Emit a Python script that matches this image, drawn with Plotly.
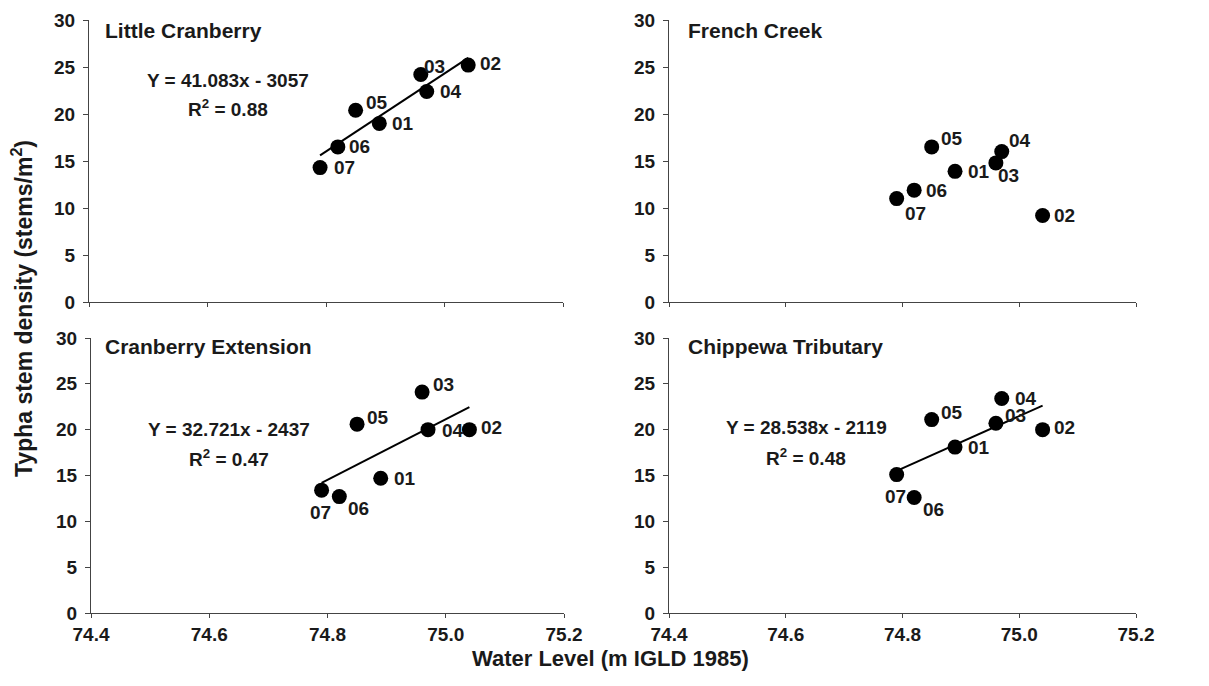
import numpy as np
import plotly.graph_objects as go

# ---- data ----
years = ["01", "02", "03", "04", "05", "06", "07"]
water_level = [74.89, 75.04, 74.96, 74.97, 74.85, 74.82, 74.79]

little_cranberry = [19.0, 25.2, 24.2, 22.4, 20.4, 16.5, 14.3]
french_creek = [13.9, 9.2, 14.8, 16.0, 16.5, 11.9, 11.0]
cranberry_extension = [14.7, 20.0, 24.1, 20.0, 20.6, 12.7, 13.4]
chippewa_tributary = [18.1, 20.0, 20.7, 23.4, 21.1, 12.6, 15.1]

panel_titles = ["Little Cranberry", "French Creek", "Cranberry Extension", "Chippewa Tributary"]
equations = ["Y = 41.083x - 3057", None, "Y = 32.721x - 2437", "Y = 28.538x - 2119"]
r2_values = ["0.88", None, "0.47", "0.48"]
x_ticks = [74.4, 74.6, 74.8, 75.0, 75.2]
y_ticks = [0, 5, 10, 15, 20, 25, 30]

series = [little_cranberry, french_creek, cranberry_extension, chippewa_tributary]

# label offsets (px) per panel, order as years
label_offsets = [
    [(24, 0), (22, 2), (14, 8), (24, 0), (21, 8), (22, 0), (24, 0)],
    [(24, 0), (22, 0), (13, -13), (18, 11), (20, 8), (22, 0), (19, -15)],
    [(24, 0), (22, 2), (21, 8), (25, -1), (21, 7), (19, -12), (-1, -22)],
    [(24, 0), (22, 2), (20, 8), (24, 0), (20, 7), (19, -12), (-1, -22)],
]

# browser page has an 8px body margin
OFF = 8
W, H = 1193, 670


def px(x):
    return (x - OFF) / W


def py(y):
    return 1 - (y - OFF) / H


# panel pixel boxes in the screenshot: (x0, x1, ytop, ybottom)
boxes = [
    (89, 563, 20, 302),
    (669, 1136, 20, 302),
    (91, 564, 338, 613),
    (669, 1136, 338, 613),
]
title_pos = [(103, 30), (686, 30), (103, 347), (686, 347)]
eq_pos = [(228, 80, 108), None, (229, 429, 458), (806, 427, 457)]

FONT = "Liberation Sans, Arial, Helvetica, sans-serif"
INK = "#1a1a1a"

fig = go.Figure()
annotations = []
layout_axes = {}

for i in range(4):
    ax = "" if i == 0 else str(i + 1)
    xa, ya = "x" + ax, "y" + ax
    x0, x1, yt, yb = boxes[i]
    layout_axes["xaxis" + ax] = dict(
        domain=[px(x0), px(x1)], range=[74.4, 75.2], anchor=ya,
        tickvals=x_ticks, tickformat=".1f", showticklabels=(i >= 2),
        showline=True, linecolor="#444", linewidth=1, ticks="outside",
        ticklen=4, tickcolor="#444", showgrid=False, zeroline=False,
        automargin=False,
        tickfont=dict(family=FONT, size=19, color=INK, weight="bold"),
    )
    layout_axes["yaxis" + ax] = dict(
        domain=[py(yb), py(yt)], range=[0, 30], anchor=xa,
        tickvals=y_ticks, showline=True, linecolor="#444", linewidth=1,
        ticks="outside", ticklen=5, tickcolor="#444", showgrid=False,
        zeroline=False, automargin=False, ticklabelstandoff=4,
        tickfont=dict(family=FONT, size=19, color=INK, weight="bold"),
    )
    yv = series[i]
    if equations[i] is not None:
        coef = np.polyfit(water_level, yv, 1)
        xl = np.array([min(water_level), max(water_level)])
        fig.add_trace(go.Scatter(x=xl, y=np.polyval(coef, xl), mode="lines",
                                 line=dict(color="black", width=2),
                                 xaxis=xa, yaxis=ya, showlegend=False))
    fig.add_trace(go.Scatter(x=water_level, y=yv, mode="markers",
                             marker=dict(color="black", size=15),
                             xaxis=xa, yaxis=ya, showlegend=False))
    for j, lab in enumerate(years):
        dx, dy = label_offsets[i][j]
        annotations.append(dict(x=water_level[j], y=yv[j], xref=xa, yref=ya,
                                text=lab, showarrow=False, xshift=dx, yshift=dy,
                                font=dict(family=FONT, size=19, color=INK, weight="bold")))
    tx, ty = title_pos[i]
    annotations.append(dict(x=px(tx), y=py(ty), xref="paper", yref="paper",
                            xanchor="left", yanchor="middle", text=panel_titles[i],
                            showarrow=False,
                            font=dict(family=FONT, size=21, color=INK, weight="bold")))
    if equations[i] is not None:
        ex, ey1, ey2 = eq_pos[i]
        annotations.append(dict(x=px(ex), y=py(ey1), xref="paper", yref="paper",
                                xanchor="center", yanchor="middle", text=equations[i],
                                showarrow=False,
                                font=dict(family=FONT, size=19, color=INK, weight="bold")))
        annotations.append(dict(x=px(ex), y=py(ey2), xref="paper", yref="paper",
                                xanchor="center", yanchor="middle",
                                text="R<sup>2</sup> = " + r2_values[i], showarrow=False,
                                font=dict(family=FONT, size=19, color=INK, weight="bold")))

annotations.append(dict(x=px(22), y=py(309), xref="paper", yref="paper",
                        text="Typha stem density (stems/m<sup>2</sup>)", textangle=-90,
                        showarrow=False, xanchor="center", yanchor="middle",
                        font=dict(family=FONT, size=23, color=INK, weight="bold")))
annotations.append(dict(x=px(610), y=py(658), xref="paper", yref="paper",
                        text="Water Level (m IGLD 1985)", showarrow=False,
                        xanchor="center", yanchor="middle",
                        font=dict(family=FONT, size=22, color=INK, weight="bold")))

fig.update_layout(width=W, height=H,
                  margin=dict(l=0, r=0, t=0, b=0, pad=0, autoexpand=False),
                  plot_bgcolor="white", paper_bgcolor="white",
                  annotations=annotations, showlegend=False, **layout_axes)
fig.write_html("out.html")
